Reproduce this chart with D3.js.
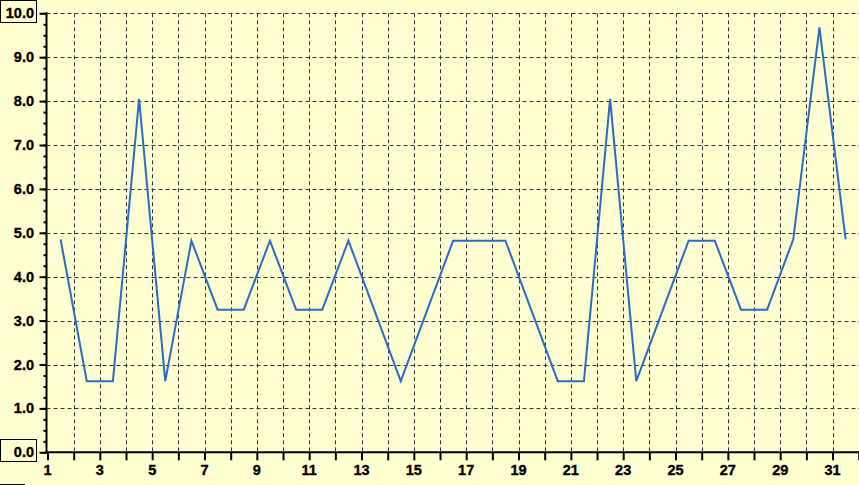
<!DOCTYPE html>
<html>
<head>
<meta charset="utf-8">
<script src="https://cdn.jsdelivr.net/npm/d3@7"></script>
<style>
  html, body { margin: 0; padding: 0; background: #ffffd2; }
  svg { display: block; }
  text { font-family: "Liberation Sans", Arial, sans-serif; font-weight: bold; font-size: 14.5px; fill: #000; stroke: #000; stroke-width: 0.35px; }
</style>
</head>
<body>
<svg id="chart" width="859" height="485"></svg>
<script>
// ---- data ----
const days = [1.5, 2.5, 3.5, 4.5, 5.5, 6.5, 7.5, 8.5, 9.5, 10.5, 11.5, 12.5, 13.5, 14.5, 15.5, 16.5,
              17.5, 18.5, 19.5, 20.5, 21.5, 22.5, 23.5, 24.5, 25.5, 26.5, 27.5, 28.5, 29.5, 30.5, 31.5];
const values = [4.85, 1.62, 1.62, 8.05, 1.62, 4.82, 3.25, 3.25, 4.82, 3.25, 3.25, 4.82, 3.22, 1.62, 3.22, 4.82,
                4.82, 4.82, 3.22, 1.62, 1.62, 8.05, 1.62, 3.22, 4.82, 4.82, 3.25, 3.25, 4.85, 9.68, 4.85];
const xTickLabels = [1, 3, 5, 7, 9, 11, 13, 15, 17, 19, 21, 23, 25, 27, 29, 31];
const yTickLabels = ["0.0", "1.0", "2.0", "3.0", "4.0", "5.0", "6.0", "7.0", "8.0", "9.0", "10.0"];

const svg = d3.select("#chart");
const W = 859, H = 485;
svg.append("rect").attr("width", W).attr("height", H).attr("fill", "#ffffd2");

const x = d3.scaleLinear().domain([1, 32]).range([47.5, 858.7]);
const y = d3.scaleLinear().domain([0, 10]).range([452.3, 13.3]);
const x0 = 46.5;

// grid
const g = svg.append("g");
g.selectAll("line.vg").data(d3.range(2, 32)).enter().append("line")
  .attr("x1", d => Math.round(x(d)) + 0.5).attr("x2", d => Math.round(x(d)) + 0.5)
  .attr("y1", y(10)).attr("y2", y(0))
  .attr("stroke", "#333").attr("stroke-width", 1).attr("stroke-dasharray", "4,3");
g.selectAll("line.hg").data(d3.range(1, 11)).enter().append("line")
  .attr("x1", x0).attr("x2", W)
  .attr("y1", d => Math.round(y(d)) + 0.5).attr("y2", d => Math.round(y(d)) + 0.5)
  .attr("stroke", "#333").attr("stroke-width", 1).attr("stroke-dasharray", "4,3");

// y axis
const yAxis = d3.axisLeft(y).tickValues(d3.range(0, 10.01, 1)).tickSize(7).tickFormat("");
const ya = svg.append("g").attr("transform", `translate(${x0},0)`).call(yAxis);
ya.select(".domain").remove();
ya.selectAll(".tick line").attr("stroke", "#000").attr("stroke-width", 2);
const yMinor = d3.axisLeft(y).tickValues(d3.range(0, 10.01, 0.25)).tickSize(3).tickFormat("");
const ym = svg.append("g").attr("transform", `translate(${x0},0)`).call(yMinor);
ym.select(".domain").remove();
ym.selectAll(".tick line").attr("stroke", "#000").attr("stroke-width", 2);
svg.append("line").attr("x1", x0).attr("x2", x0).attr("y1", y(10) - 1).attr("y2", y(0) + 1)
  .attr("stroke", "#000").attr("stroke-width", 2);

// y labels
svg.selectAll("text.yl").data(yTickLabels).enter().append("text")
  .attr("x", 34).attr("y", (d, i) => y(i) + 5)
  .attr("text-anchor", "end").text(d => d);

// boxes around 10.0 and 0.0
svg.append("rect").attr("x", 0.5).attr("y", 0.5).attr("width", 36).attr("height", 22)
  .attr("fill", "none").attr("stroke", "#000");
svg.append("rect").attr("x", 0.5).attr("y", 439.5).attr("width", 36).attr("height", 22)
  .attr("fill", "none").attr("stroke", "#000");

// x axis
const xAxis = d3.axisBottom(x).tickValues(d3.range(1, 33)).tickSize(8).tickFormat("");
const xa = svg.append("g").attr("transform", `translate(0,${y(0)})`).call(xAxis);
xa.select(".domain").remove();
xa.selectAll(".tick line").attr("stroke", "#000").attr("stroke-width", 2);
svg.append("line").attr("x1", x0).attr("x2", W).attr("y1", y(0)).attr("y2", y(0))
  .attr("stroke", "#000").attr("stroke-width", 2);
svg.selectAll("text.xl").data(xTickLabels).enter().append("text")
  .attr("x", d => x(d)).attr("y", 475).attr("text-anchor", "middle").text(d => d);

// small mark bottom-left
svg.append("line").attr("x1", 0).attr("x2", 25).attr("y1", 484.5).attr("y2", 484.5)
  .attr("stroke", "#000").attr("stroke-width", 1);

// data line
const line = d3.line().x((d, i) => x(days[i])).y(d => y(d));
svg.append("path").datum(values).attr("d", line)
  .attr("fill", "none").attr("stroke", "#2a6acb").attr("stroke-width", 2).attr("stroke-linejoin", "miter");
</script>
</body>
</html>
